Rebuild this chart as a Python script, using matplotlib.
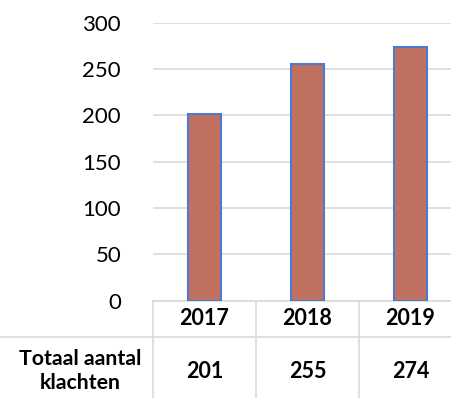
import numpy as np
from matplotlib import pyplot as plt
from matplotlib.lines import Line2D
from matplotlib.transforms import blended_transform_factory

plt.rcParams['font.family'] = ['Lato', 'DejaVu Sans']

years = ['2017', '2018', '2019']
klachten = [201, 255, 274]
row_label = 'Totaal aantal\nklachten'
y_ticks = [0, 50, 100, 150, 200, 250, 300]

W, H = 452, 398
fig = plt.figure(figsize=(W / 100, H / 100), dpi=100)

# plot area in pixels (left, top of 300 line, zero line); last column runs past the edge
left_px, top_px, zero_px, col_px = 153, 22.7, 300.7, 103
ax = fig.add_axes([left_px / W, (H - zero_px) / H,
                   3 * col_px / W, (zero_px - top_px) / H])

x = np.arange(len(years))
ax.bar(x, klachten, width=0.32, color='#C0705F', edgecolor='#4A7BD0',
       linewidth=1.5, zorder=3)

ax.set_xlim(-0.5, len(years) - 0.5)
ax.set_ylim(0, 300)
ax.set_yticks(y_ticks)
ax.set_yticklabels([str(t) for t in y_ticks], fontsize=16)
ax.set_xticks([])
ax.tick_params(axis='y', length=0, pad=23)
ax.grid(axis='y', color='#D9D9D9', linewidth=1.2, zorder=0)
for s in ['top', 'right', 'left']:
    ax.spines[s].set_visible(False)
ax.spines['bottom'].set_color('#D9D9D9')
ax.spines['bottom'].set_linewidth(1.2)

# data table under the axis
grid_c = '#D9D9D9'
row1_bottom = -(336.7 - zero_px) / (zero_px - top_px)
fig_bottom = -(H - zero_px + 5) / (zero_px - top_px)
btr = blended_transform_factory(ax.transData, ax.transAxes)

for xv in np.arange(len(years) + 1) - 0.5:
    ax.add_line(Line2D([xv, xv], [0, fig_bottom], transform=btr,
                       color=grid_c, linewidth=1.2, clip_on=False))
ax.add_line(Line2D([-left_px / col_px - 0.5, len(years)], [row1_bottom, row1_bottom],
                   transform=btr, color=grid_c, linewidth=1.2, clip_on=False))

row1_mid = row1_bottom / 2
row2_mid = -(371 - zero_px) / (zero_px - top_px)
for xi, (yr, v) in enumerate(zip(years, klachten)):
    ax.text(xi, row1_mid, yr, transform=btr, ha='center', va='center',
            fontsize=15.5, fontweight='bold')
    ax.text(xi, row2_mid, str(v), transform=btr, ha='center', va='center',
            fontsize=15.5, fontweight='bold')
ax.text(-0.5 - 73 / col_px, row2_mid, row_label, transform=btr, ha='center',
        va='center', fontsize=15.3, fontweight='bold', linespacing=1.2)

fig.savefig('out.png', dpi=100)
